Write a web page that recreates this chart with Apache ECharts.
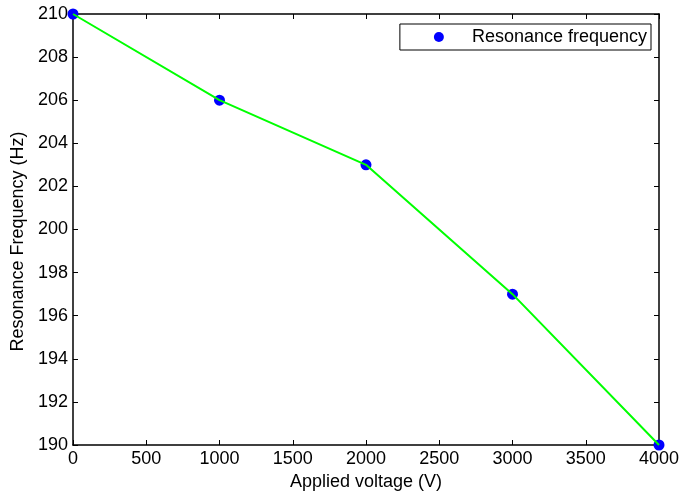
<!DOCTYPE html>
<html>
<head>
<meta charset="utf-8">
<script src="https://cdn.jsdelivr.net/npm/echarts@6/dist/echarts.min.js"></script>
<style>html,body{margin:0;padding:0;background:#fff;}#c{width:679px;height:493px;}</style>
</head>
<body>
<div id="c"></div>
<script>
const voltage = [0, 1000, 2000, 3000, 4000];
const frequency = [210, 206, 203, 197, 190];
const seriesName = 'Resonance frequency';
const xTitle = 'Applied voltage (V)';
const yTitle = 'Resonance Frequency (Hz)';

const pts = voltage.map((v, i) => [v, frequency[i]]);
const font = 'Liberation Sans, Arial, sans-serif';
const fs = 18;
const chart = echarts.init(document.getElementById('c'));
const axisLine = { show: true, onZero: false, lineStyle: { color: '#000', width: 1.5 } };
const tick = { show: true, inside: true, length: 5, lineStyle: { color: '#000' } };
const lbl = { fontFamily: font, fontSize: fs, color: '#000', margin: 5, formatter: v => String(v) };
chart.setOption({
  animation: false,
  backgroundColor: '#fff',
  grid: { left: 73, right: 20, top: 14, bottom: 48, containLabel: false, outerBoundsMode: 'none' },
  legend: {
    show: true,
    data: [{ name: seriesName, icon: 'circle' }],
    right: 28, top: 24,
    itemWidth: 56, itemHeight: 10,
    padding: [4, 4, 4, 34],
    borderColor: '#000', borderWidth: 1,
    backgroundColor: '#fff',
    textStyle: { fontFamily: font, fontSize: fs, color: '#000' }
  },
  xAxis: [{
    type: 'value', min: 0, max: 4000, interval: 500,
    name: xTitle, nameLocation: 'middle', nameGap: 25,
    nameTextStyle: { fontFamily: font, fontSize: fs, color: '#000' },
    axisLine, axisTick: tick, splitLine: { show: false },
    axisLabel: lbl
  }, {
    type: 'value', min: 0, max: 4000, interval: 500, position: 'top',
    axisLine, axisTick: tick, splitLine: { show: false }, axisLabel: { show: false }
  }],
  yAxis: [{
    type: 'value', min: 190, max: 210, interval: 2,
    name: yTitle, nameLocation: 'middle', nameGap: 46,
    nameTextStyle: { fontFamily: font, fontSize: fs, color: '#000', padding: [0, 24, 0, 0] },
    axisLine, axisTick: tick, splitLine: { show: false },
    axisLabel: lbl
  }, {
    type: 'value', min: 190, max: 210, interval: 2, position: 'right',
    axisLine, axisTick: tick, splitLine: { show: false }, axisLabel: { show: false }
  }],
  series: [{
    name: seriesName, type: 'scatter', data: pts,
    symbol: 'circle', symbolSize: 11, clip: false,
    itemStyle: { color: '#0000ff', opacity: 1 }, z: 2
  }, {
    name: 'fit', type: 'line', data: pts, showSymbol: false, symbol: 'none',
    lineStyle: { color: '#00ff00', width: 2 }, clip: false, z: 3
  }]
});
</script>
</body>
</html>
